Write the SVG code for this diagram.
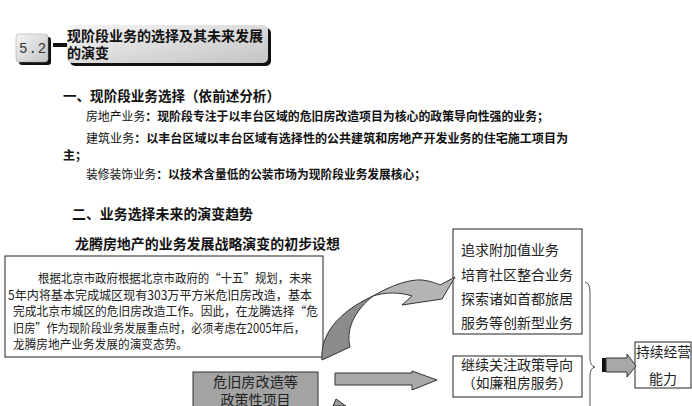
<svg xmlns="http://www.w3.org/2000/svg" width="692" height="406" viewBox="0 0 692 406">
<defs>
<linearGradient id="hdr" x1="0" y1="0" x2="1" y2="1">
<stop offset="0" stop-color="#f4f4f4"/>
<stop offset="1" stop-color="#c4c4c4"/>
</linearGradient>
<style>
text{font-family:"Noto Sans CJK SC","Liberation Sans",sans-serif;fill:#111}
.b{font-weight:bold}
.h{font-size:14px;font-weight:bold}
.t{font-size:12px}
.p{font-size:12.5px;fill:#222}
.r{font-size:14px;fill:#222}
.box{fill:#fff;stroke:#222;stroke-width:1}
.arr{stroke:#333;stroke-width:1}
</style>
</defs>
<rect width="692" height="406" fill="#fff"/>

<g id="header">
<rect x="19" y="37" width="32" height="28" rx="3" fill="#111"/>
<rect x="16" y="34" width="32" height="28" rx="3" fill="url(#hdr)" stroke="#999" stroke-width="0.5"/>
<text x="19" y="53" style="font-family:'Liberation Mono',monospace;font-size:14px;fill:#333" letter-spacing="1">5.2</text>
<rect x="53" y="43" width="14" height="4" fill="#111"/>
<rect x="70" y="28" width="201" height="38" rx="5" fill="#111"/>
<rect x="67" y="25" width="201" height="38" rx="5" fill="url(#hdr)"/>
<text x="67" y="41" class="h" textLength="196" lengthAdjust="spacingAndGlyphs">现阶段业务的选择及其未来发展</text>
<text x="67" y="58" class="h">的演变</text>
</g>

<g id="section1">
<text x="63" y="101" class="h" textLength="217" lengthAdjust="spacingAndGlyphs">一、现阶段业务选择（依前述分析）</text>
<text x="86" y="121" class="t" textLength="463" lengthAdjust="spacingAndGlyphs">房地产业务<tspan class="b">：现阶段专注于以丰台区域的危旧房改造项目为核心的政策导向性强的业务；</tspan></text>
<text x="86" y="143" class="t" textLength="482" lengthAdjust="spacingAndGlyphs">建筑业务<tspan class="b">：以丰台区域以丰台区域有选择性的公共建筑和房地产开发业务的住宅施工项目为</tspan></text>
<text x="63" y="160" class="t b">主；</text>
<text x="86" y="179" class="t" textLength="340" lengthAdjust="spacingAndGlyphs">装修装饰业务<tspan class="b">：以技术含量低的公装市场为现阶段业务发展核心；</tspan></text>
</g>

<g id="section2">
<text x="72" y="219" class="h" textLength="181" lengthAdjust="spacingAndGlyphs">二、业务选择未来的演变趋势</text>
<text x="75" y="249" class="h" textLength="265" lengthAdjust="spacingAndGlyphs">龙腾房地产的业务发展战略演变的初步设想</text>
</g>

<g id="node-text">
<rect x="5" y="256" width="318" height="101" class="box"/>
<text x="38" y="283" class="p" textLength="274" lengthAdjust="spacingAndGlyphs">根据北京市政府根据北京市政府的“十五”规划，未来</text>
<text x="8" y="299.5" class="p" textLength="304" lengthAdjust="spacingAndGlyphs">5年内将基本完成城区现有303万平方米危旧房改造，基本</text>
<text x="13" y="316" class="p" textLength="305" lengthAdjust="spacingAndGlyphs">完成北京市城区的危旧房改造工作。因此，在龙腾选择“危</text>
<text x="13" y="332.5" class="p" textLength="292" lengthAdjust="spacingAndGlyphs">旧房”作为现阶段业务发展重点时，必须考虑在2005年后，</text>
<text x="13" y="349" class="p" textLength="175" lengthAdjust="spacingAndGlyphs">龙腾房地产业务发展的演变态势。</text>
</g>

<g id="node-policy">
<rect x="193" y="372" width="125" height="40" fill="#a4a4a4" stroke="#333" stroke-width="1"/>
<text x="255.5" y="387" class="r" text-anchor="middle" textLength="85" lengthAdjust="spacingAndGlyphs">危旧房改造等</text>
<text x="255.5" y="405" class="r" text-anchor="middle">政策性项目</text>
</g>

<g id="node-new">
<rect x="453" y="229" width="129" height="105" class="box"/>
<text x="461" y="255" class="r" textLength="98" lengthAdjust="spacingAndGlyphs">追求附加值业务</text>
<text x="461" y="280" class="r" textLength="112" lengthAdjust="spacingAndGlyphs">培育社区整合业务</text>
<text x="461" y="304" class="r" textLength="112" lengthAdjust="spacingAndGlyphs">探索诸如首都旅居</text>
<text x="461" y="328" class="r" textLength="112" lengthAdjust="spacingAndGlyphs">服务等创新型业务</text>
</g>

<g id="node-continue">
<rect x="453" y="356" width="129" height="41" class="box"/>
<text x="461" y="370" class="r" textLength="112" lengthAdjust="spacingAndGlyphs">继续关注政策导向</text>
<text x="462" y="388" class="r" textLength="110" lengthAdjust="spacingAndGlyphs">（如廉租房服务）</text>
</g>

<g id="node-ability">
<rect x="635" y="342" width="56" height="46" class="box"/>
<text x="636" y="357" class="r" textLength="55" lengthAdjust="spacingAndGlyphs">持续经营</text>
<text x="663" y="384" class="r" text-anchor="middle">能力</text>
</g>

<g id="connectors">
<path d="M322,360 C320,335 338,312 373,296 C358,308 345,326 350,347 Z" fill="#8c8c8c" class="arr"/>
<path d="M373,296 C392,285 410,279 422,280 C430,281 436,283 440,285 L455,277 L442,299 L402,305 L412,296 C400,292 385,292 373,296 Z" fill="#b4b4b4" class="arr"/>
<path d="M335,373 L412,373 L412,371 L437,380 L412,390 L412,385 L335,385 Z" fill="#a8a8a8" class="arr"/>
<path d="M333,406 L336,399 L346,406 Z" fill="#9a9a9a" class="arr"/>
<path d="M585,282 Q590,283 590,292 L590,358 Q590,366 595,367 Q590,368 590,376 L590,406" fill="none" stroke="#555" stroke-width="1"/>
<rect x="602" y="358" width="4" height="14" fill="#111"/>
<path d="M606,358 L627,358 L627,354 L636,366 L627,377 L627,372 L606,372 Z" fill="#a8a8a8" class="arr"/>
</g>
</svg>
